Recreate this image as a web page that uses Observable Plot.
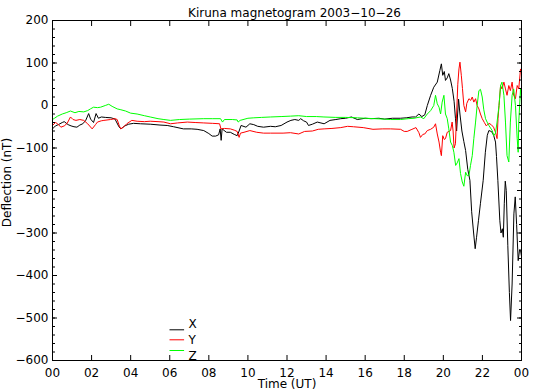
<!DOCTYPE html>
<html><head><meta charset="utf-8">
<script src="https://cdn.jsdelivr.net/npm/d3@7"></script>
<script src="https://cdn.jsdelivr.net/npm/@observablehq/plot@0.6"></script>
<style>body{margin:0;background:#fff}</style>
</head><body><div id="chart"></div>
<script>
const title = "Kiruna magnetogram 2003\u221210\u221226";
const xLabel = "Time (UT)";
const yLabel = "Deflection (nT)";
const seriesNames = ["X", "Y", "Z"];
const seriesColors = ["#000000", "#ff0000", "#00ff00"];
const xTicks = [0, 2, 4, 6, 8, 10, 12, 14, 16, 18, 20, 22, 24];
const xTickLabels = ["00","02","04","06","08","10","12","14","16","18","20","22","00"];
const yTicks = [-600, -500, -400, -300, -200, -100, 0, 100, 200];

// [hour UT, deflection nT]
const xSeries = [[0,-55],[0.15,-48],[0.3,-45],[0.5,-40],[0.6,-38],[0.8,-45],[0.95,-48],[1.1,-50],[1.25,-51],[1.4,-46],[1.55,-43],[1.7,-35],[1.85,-19],[1.95,-32],[2.1,-40],[2.23,-19],[2.35,-30],[2.5,-27],[2.7,-28],[3.0,-29],[3.2,-32],[3.4,-50],[3.5,-55],[3.7,-48],[3.9,-44],[4.15,-42],[4.5,-43],[5.0,-44],[5.5,-46],[5.87,-47],[6.2,-50],[6.7,-55],[7.1,-55],[7.4,-56],[7.74,-59],[8.0,-66],[8.17,-72],[8.35,-72],[8.5,-69],[8.58,-55],[8.63,-82],[8.68,-55],[8.9,-63],[9.1,-63],[9.3,-68],[9.45,-71],[9.55,-60],[9.65,-47],[9.9,-51],[10.1,-43],[10.3,-45],[10.5,-49],[10.8,-51],[11.16,-49],[11.4,-50],[11.7,-47],[12.0,-39],[12.2,-35],[12.4,-33],[12.6,-35],[12.7,-31],[12.85,-36],[13.0,-39],[13.1,-47],[13.3,-44],[13.55,-39],[13.9,-43],[14.2,-35],[14.5,-33],[14.75,-31],[15.0,-30],[15.3,-27],[15.6,-33],[16.0,-30],[16.3,-31],[16.7,-30],[17.0,-32],[17.4,-30],[17.8,-30],[18.1,-29],[18.4,-27],[18.58,-27],[18.75,-20],[18.9,-26],[19.05,-22],[19.18,0],[19.35,24],[19.51,43],[19.69,55],[19.82,82],[19.9,98],[19.97,71],[20.05,80],[20.11,59],[20.2,65],[20.28,75],[20.37,60],[20.46,40],[20.55,10],[20.62,-30],[20.68,-60],[20.73,-20],[20.78,15],[20.85,-20],[20.95,-60],[21.05,-85],[21.14,-106],[21.25,-150],[21.36,-176],[21.45,-250],[21.55,-300],[21.63,-337],[21.7,-310],[21.8,-270],[21.9,-230],[22.04,-176],[22.15,-110],[22.25,-70],[22.33,-59],[22.4,-60],[22.5,-63],[22.58,-71],[22.67,-86],[22.72,-120],[22.79,-176],[22.89,-270],[22.95,-300],[23.02,-290],[23.07,-310],[23.12,-230],[23.17,-178],[23.22,-200],[23.3,-330],[23.38,-440],[23.44,-506],[23.52,-420],[23.61,-255],[23.68,-215],[23.75,-280],[23.83,-365],[23.9,-340],[23.95,-341],[24.0,-355]];

const ySeries = [[0,-47],[0.15,-40],[0.26,-43],[0.43,-51],[0.6,-48],[0.75,-42],[0.92,-27],[1.05,-33],[1.2,-35],[1.4,-33],[1.6,-35],[1.8,-43],[2.03,-55],[2.2,-45],[2.3,-39],[2.5,-36],[2.63,-35],[2.97,-33],[3.2,-31],[3.31,-33],[3.42,-48],[3.5,-55],[3.65,-50],[3.8,-43],[4.06,-35],[4.33,-37],[4.7,-38],[5.0,-37],[5.4,-38],[5.7,-39],[6.04,-43],[6.4,-41],[6.9,-39],[7.3,-40],[7.74,-41],[8.2,-42],[8.55,-43],[8.62,-55],[8.8,-54],[9.1,-55],[9.3,-58],[9.45,-61],[9.55,-75],[9.62,-65],[9.8,-63],[10.1,-59],[10.45,-63],[10.8,-65],[11.16,-65],[11.8,-65],[12.18,-64],[12.6,-67],[12.9,-61],[13.3,-60],[13.6,-56],[13.9,-55],[14.3,-54],[14.75,-52],[15.1,-49],[15.4,-50],[15.9,-52],[16.4,-56],[16.9,-55],[17.3,-55],[17.81,-56],[18.0,-61],[18.15,-61],[18.35,-57],[18.5,-54],[18.6,-52],[18.75,-64],[18.83,-75],[18.95,-68],[19.05,-67],[19.18,-59],[19.35,-56],[19.51,-51],[19.6,-43],[19.69,-67],[19.78,-86],[19.86,-110],[19.9,-118],[19.97,-71],[20.05,-80],[20.11,-78],[20.2,-63],[20.37,-59],[20.45,-39],[20.5,-60],[20.55,-100],[20.62,-90],[20.68,-20],[20.74,50],[20.8,86],[20.85,102],[20.92,71],[20.98,40],[21.05,0],[21.14,-15],[21.2,5],[21.31,16],[21.4,12],[21.48,20],[21.56,8],[21.65,16],[21.73,0],[21.82,-8],[21.9,-20],[21.99,-31],[22.1,-40],[22.2,-48],[22.33,-42],[22.45,-45],[22.57,-51],[22.67,-63],[22.75,-78],[22.8,-30],[22.85,0],[22.93,47],[23.0,39],[23.1,55],[23.18,39],[23.26,24],[23.35,47],[23.43,35],[23.52,55],[23.6,24],[23.69,16],[23.78,47],[23.86,39],[23.95,86],[24.0,75]];

const zSeries = [[0,-33],[0.1,-30],[0.26,-25],[0.5,-20],[0.7,-17],[0.92,-13],[1.15,-17],[1.35,-14],[1.6,-15],[1.8,-12],[1.94,-8],[2.1,-4],[2.3,-5],[2.46,-4],[2.7,0],[2.88,3],[3.05,-2],[3.31,-8],[3.5,-10],[3.74,-13],[4.0,-18],[4.33,-20],[4.7,-24],[5.0,-27],[5.4,-31],[5.7,-33],[6.04,-35],[6.5,-33],[7.0,-32],[7.74,-31],[8.2,-31],[8.6,-31],[8.7,-39],[8.8,-33],[9.2,-33],[9.45,-34],[9.5,-39],[9.6,-35],[10.0,-30],[10.3,-29],[10.7,-28],[11.16,-27],[11.7,-26],[12.18,-25],[12.6,-24],[13.0,-26],[13.5,-26],[13.89,-27],[14.5,-28],[15.0,-28],[15.6,-29],[16.0,-30],[16.5,-31],[17.0,-32],[17.3,-33],[17.81,-33],[18.2,-31],[18.5,-30],[18.83,-27],[19.0,-31],[19.18,-20],[19.35,-12],[19.51,0],[19.6,24],[19.69,4],[19.78,-4],[19.86,-20],[19.94,8],[20.03,24],[20.11,-20],[20.2,-31],[20.28,-55],[20.37,-86],[20.46,-94],[20.54,-110],[20.63,-141],[20.71,-135],[20.8,-125],[20.88,-160],[20.97,-180],[21.05,-190],[21.14,-157],[21.22,-165],[21.31,-165],[21.39,-141],[21.48,-118],[21.56,-78],[21.65,-39],[21.73,0],[21.82,35],[21.9,38],[21.99,20],[22.07,-10],[22.16,-31],[22.24,-39],[22.33,-47],[22.5,-59],[22.58,-71],[22.67,-65],[22.75,-39],[22.85,0],[22.93,47],[23.0,55],[23.1,24],[23.18,-39],[23.26,-118],[23.35,-133],[23.43,-39],[23.52,24],[23.6,39],[23.69,0],[23.78,-78],[23.83,-110],[23.86,-39],[23.95,39],[24.0,12]];

const allSeries = [xSeries, ySeries, zSeries];
const yMinor = d3.range(-600, 201, 20);

const lineSymbol = {draw(ctx) { ctx.moveTo(-7.3, 0); ctx.lineTo(7.3, 0); }};
const legendLineDy = [-30.7, -20.7, -10];
const legendTextDy = [-36.3, -20, -4];

const lines = allSeries.map((s, i) => Plot.line(s, {x: d => d[0], y: d => d[1], stroke: seriesColors[i], strokeWidth: 1}));

const legend = seriesNames.flatMap((name, i) => [
  Plot.dot([name], {frameAnchor: "bottom-left", dx: 124.3, dy: legendLineDy[i], symbol: lineSymbol, r: 3, fill: "none", stroke: seriesColors[i], strokeWidth: 1}),
  Plot.text([name], {frameAnchor: "bottom-left", dx: 136, dy: legendTextDy[i], textAnchor: "start", lineAnchor: "middle", fontSize: 12, fill: "black"})
]);

const chart = Plot.plot({
  width: 535, height: 392,
  marginLeft: 52, marginRight: 14, marginTop: 20, marginBottom: 32,
  style: {fontFamily: "'DejaVu Sans', sans-serif", fontSize: "12px", color: "black", background: "white", overflow: "visible"},
  x: {domain: [0, 24]},
  y: {domain: [-600, 200]},
  marks: [
    ...lines,
    Plot.frame({stroke: "black", strokeWidth: 1}),
    Plot.axisX({anchor: "bottom", ticks: xTicks, tickSize: -5, tickPadding: 12.5, tickFormat: d => xTickLabels[xTicks.indexOf(d)], label: null, fontSize: 12}),
    Plot.axisX({anchor: "top", ticks: xTicks, tickSize: -5, tickFormat: () => "", label: null}),
    Plot.axisY({anchor: "left", ticks: yTicks, tickSize: -5, tickPadding: 9, label: null, fontSize: 12}),
    Plot.axisY({anchor: "left", ticks: yMinor, tickSize: -3, tickFormat: () => "", label: null}),
    Plot.axisY({anchor: "right", ticks: yTicks, tickSize: -5, tickFormat: () => "", label: null}),
    Plot.axisY({anchor: "right", ticks: yMinor, tickSize: -3, tickFormat: () => "", label: null}),
    Plot.text([title], {frameAnchor: "top", dx: 7.5, dy: -7.2, textAnchor: "middle", lineAnchor: "middle", fontSize: 12, fill: "black"}),
    Plot.text([xLabel], {frameAnchor: "bottom", dy: 23.5, textAnchor: "middle", lineAnchor: "middle", fontSize: 12, fill: "black"}),
    Plot.text([yLabel], {frameAnchor: "left", dx: -45, dy: -8, rotate: -90, textAnchor: "middle", lineAnchor: "middle", fontSize: 12, fill: "black"}),
    ...legend
  ]
});
document.getElementById("chart").append(chart);
</script>
</body></html>
